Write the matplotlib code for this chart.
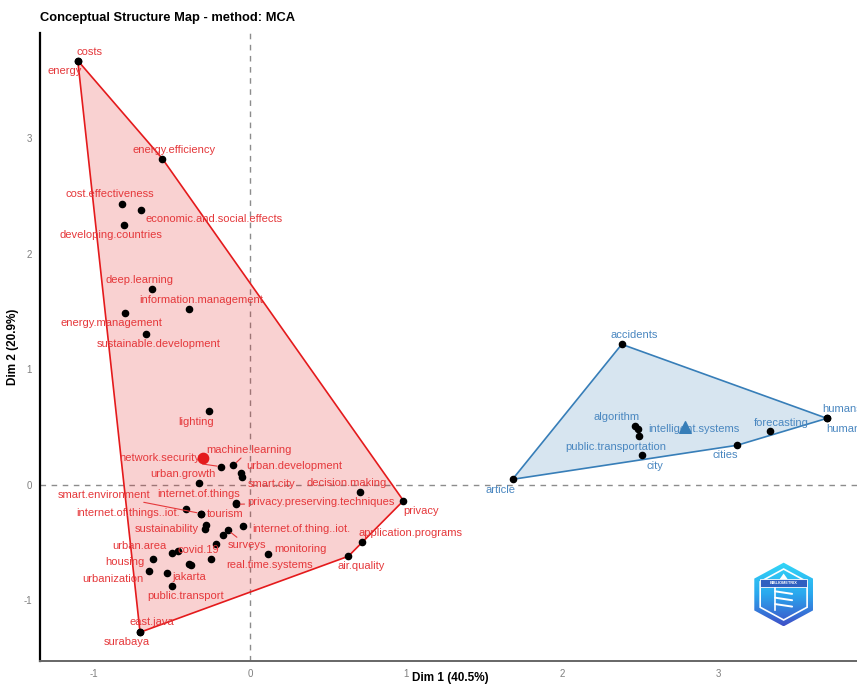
import numpy as np
import matplotlib
matplotlib.use("Agg")
import matplotlib.pyplot as plt
from matplotlib.patches import Polygon

plt.rcParams['font.family'] = ['Liberation Sans', 'DejaVu Sans']
plt.rcParams['axes.unicode_minus'] = False

# cluster 1 (red) terms and MCA coordinates, "" = point without a label
red_terms = ["costs", "energy", "energy.efficiency", "cost.effectiveness",
             "economic.and.social.effects", "developing.countries", "deep.learning",
             "information.management", "energy.management", "sustainable.development",
             "lighting", "network.security", "machine.learning", "urban.development",
             "smart.city", "urban.growth", "decision.making", "privacy",
             "smart.environment", "internet.of.things", "privacy.preserving.techniques",
             "internet.of.things..iot.", "tourism", "sustainability", "",
             "internet.of.thing..iot.", "surveys", "", "", "application.programs",
             "monitoring", "air.quality", "covid.19", "urban.area", "real.time.systems",
             "housing", "", "", "urbanization", "jakarta", "public.transport",
             "east.java", "surabaya"]
red_x = [-1.104, -1.104, -0.562, -0.821, -0.699, -0.806, -0.626, -0.393, -0.803, -0.667,
         -0.263, -0.184, -0.107, -0.058, -0.049, -0.325, 0.705, 0.983, -0.314, -0.092,
         -0.090, -0.408, -0.316, -0.282, -0.290, -0.043, -0.143, -0.175, -0.218, 0.720,
         0.117, 0.630, -0.460, -0.498, -0.250, -0.624, -0.393, -0.376, -0.647, -0.532,
         -0.498, -0.705, -0.705]
red_y = [3.674, 3.674, 2.825, 2.433, 2.384, 2.249, 1.700, 1.526, 1.492, 1.307,
         0.641, 0.158, 0.171, 0.101, 0.072, 0.015, -0.061, -0.136, -0.247, -0.156,
         -0.167, -0.205, -0.251, -0.344, -0.381, -0.358, -0.390, -0.436, -0.508, -0.491,
         -0.597, -0.617, -0.569, -0.591, -0.643, -0.643, -0.681, -0.695, -0.747, -0.765,
         -0.877, -1.275, -1.275]

# cluster 2 (blue)
blue_terms = ["accidents", "humans", "human", "algorithm", "intelligent.systems",
              "public.transportation", "city", "cities", "forecasting", "article"]
blue_x = [2.382, 3.697, 3.697, 2.468, 2.489, 2.494, 2.509, 3.122, 3.333, 1.682]
blue_y = [1.218, 0.577, 0.577, 0.511, 0.482, 0.421, 0.260, 0.344, 0.470, 0.049]

# cluster centroids
centroids = {"red": (-0.303, 0.231), "blue": (2.788, 0.500)}

# label nudges in pixels (dx, dy downwards)
nudge = {
    "costs": (12, -9), "energy": (-13, 10), "energy.efficiency": (12, -9),
    "cost.effectiveness": (-12, -10), "economic.and.social.effects": (73, 9),
    "developing.countries": (-13, 10), "deep.learning": (-13, -9),
    "information.management": (12, -9), "energy.management": (-13, 10),
    "sustainable.development": (13, 10), "lighting": (-13, 11),
    "network.security": (-62, -9), "machine.learning": (16, -15),
    "urban.development": (53, -7), "smart.city": (29, 7), "urban.growth": (-16, -9),
    "decision.making": (-13, -9), "privacy": (18, 10), "smart.environment": (-97, -19),
    "internet.of.things": (-37, -9), "privacy.preserving.techniques": (85, -2),
    "internet.of.things..iot.": (-58, 4), "tourism": (24, 0), "sustainability": (-39, 4),
    "internet.of.thing..iot.": (58, 3), "application.programs": (48, -9),
    "surveys": (19, 15), "monitoring": (32, -5), "urban.area": (-33, -7),
    "covid.19": (20, -1), "housing": (-28, 3), "real.time.systems": (59, 6),
    "air.quality": (13, 10), "urbanization": (-36, 8), "jakarta": (22, 4),
    "public.transport": (13, 10), "east.java": (12, -10), "surabaya": (-13, 10),
    "accidents": (12, -9), "humans": (15, -9), "human": (16, 11), "algorithm": (-19, -9),
    "intelligent.systems": (55, 0), "public.transportation": (-23, 11),
    "city": (13, 11), "cities": (-12, 10), "forecasting": (11, -8), "article": (-12, 11),
}
with_segment = {"network.security", "machine.learning", "smart.environment",
                "privacy.preserving.techniques", "surveys"}


def hull(px, py):
    pts = sorted(set(zip(px, py)))
    def cross(o, a, b):
        return (a[0]-o[0])*(b[1]-o[1]) - (a[1]-o[1])*(b[0]-o[0])
    lower, upper = [], []
    for p in pts:
        while len(lower) >= 2 and cross(lower[-2], lower[-1], p) <= 0:
            lower.pop()
        lower.append(p)
    for p in reversed(pts):
        while len(upper) >= 2 and cross(upper[-2], upper[-1], p) <= 0:
            upper.pop()
        upper.append(p)
    return lower[:-1] + upper[:-1]


fig = plt.figure(figsize=(8.57, 6.89), dpi=100)
ax = fig.add_axes([0.0467, 0.0406, 0.957, 0.9115])
ax.set_xlim(-1.346, 3.91)
ax.set_ylim(-1.524, 3.913)

ax.axhline(0, color='#8c8c8c', lw=1.0, ls=(0, (4, 4)), zorder=1)
ax.axvline(0, color='#8c8c8c', lw=1.0, ls=(0, (4, 4)), zorder=1)

clusters = [(red_terms, red_x, red_y, '#E41A1C', '#E5383B'),
            (blue_terms, blue_x, blue_y, '#377EB8', '#4A87C0')]
for terms, xs, ys, col, tcol in clusters:
    h = hull(xs, ys)
    ax.add_patch(Polygon(h, closed=True, facecolor=col, alpha=0.2, edgecolor='none', zorder=2))
    ax.add_patch(Polygon(h, closed=True, facecolor='none', edgecolor=col, lw=1.2, zorder=3))
    ax.scatter(xs, ys, s=20, color='black', zorder=4)
    for t, x, y in zip(terms, xs, ys):
        if not t:
            continue
        dx, dy = nudge[t]
        arrow = None
        if t in with_segment:
            arrow = dict(arrowstyle='-', color=tcol, lw=0.8, shrinkA=0, shrinkB=3)
        ax.annotate(t, (x, y), xytext=(dx, -dy), textcoords='offset pixels',
                    ha='center', va='center', fontsize=8, color=tcol,
                    arrowprops=arrow, zorder=5)

ax.scatter(*centroids["red"], s=55, color='#E41A1C', zorder=6)
ax.scatter(*centroids["blue"], s=70, marker='^', color='#377EB8', zorder=6)

for s in ['top', 'right']:
    ax.spines[s].set_visible(False)
ax.spines['left'].set_color('black')
ax.spines['left'].set_linewidth(1.6)
ax.spines['bottom'].set_color('#666666')
ax.spines['bottom'].set_linewidth(1.4)
ax.set_xticks([-1, 0, 1, 2, 3])
ax.set_yticks([-1, 0, 1, 2, 3])
ax.tick_params(length=0, labelsize=7, labelcolor='#7f7f7f', pad=6)
ax.set_xlabel("Dim 1 (40.5%)", fontsize=8.5, fontweight='bold', va='center')
ax.set_ylabel("Dim 2 (20.9%)", fontsize=8.5, fontweight='bold', va='center')
ax.xaxis.set_label_coords(0.5, -0.027)
ax.yaxis.set_label_coords(-0.033, 0.5)
fig.text(0.0467, 0.974, "Conceptual Structure Map - method: MCA", fontsize=9.3,
         fontweight='bold', ha='left', va='center')

# bibliometrix badge
lax = fig.add_axes([0.880, 0.090, 0.0688, 0.0943])
lax.set_xlim(-0.87, 0.87)
lax.set_ylim(-1.02, 1.02)
lax.axis('off')
ang = np.deg2rad(90 + 60 * np.arange(6))
outer = np.c_[np.cos(ang), np.sin(ang)]
grad = np.linspace(0, 1, 100).reshape(-1, 1)
cmap = matplotlib.colors.LinearSegmentedColormap.from_list('b', ['#3f51c8', '#2aa8ee', '#33d6f7'])
img = lax.imshow(grad, extent=(-1, 1, 1, -1), cmap=cmap, aspect='auto')
clip = Polygon(outer, closed=True, transform=lax.transData, facecolor='none', edgecolor='none')
lax.add_patch(clip)
img.set_clip_path(clip)
lax.add_patch(Polygon(outer * 0.8, closed=True, facecolor='none', edgecolor='white', lw=1.2))
lax.add_patch(Polygon([[-0.7, 0.25], [0.7, 0.25], [0.7, 0.48], [-0.7, 0.48]],
                      closed=True, facecolor='#2f5fc0', edgecolor='white', lw=0.6))
lax.text(0, 0.365, "BIBLIOMETRIX", fontsize=2.8, color='white', fontweight='bold',
         ha='center', va='center')
lax.add_patch(Polygon([[-0.12, 0.48], [0, 0.66], [0.12, 0.48]], closed=True, facecolor='white'))
for yy in [0.1, -0.1, -0.3]:
    lax.plot([-0.25, 0.25], [yy, yy - 0.08], color='white', lw=1.4, solid_capstyle='round')
lax.plot([-0.25, -0.25], [0.2, -0.5], color='white', lw=1.2)

fig.savefig("out.png", dpi=100)
